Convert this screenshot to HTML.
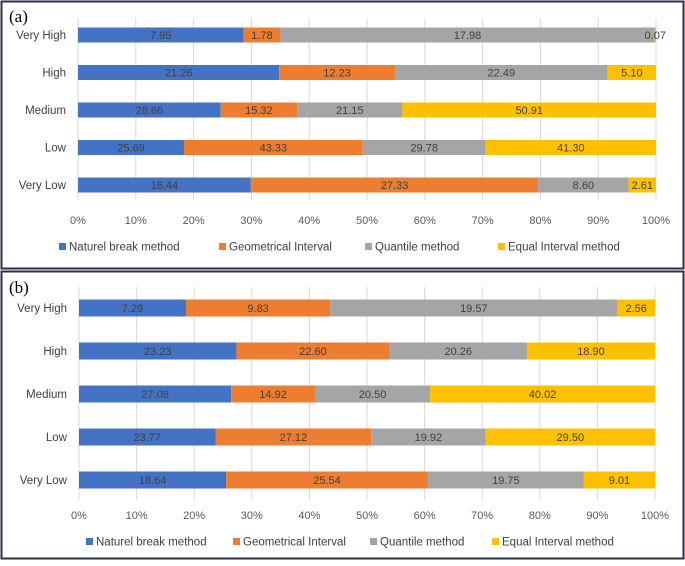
<!DOCTYPE html>
<html><head><meta charset="utf-8"><style>
body{margin:0;background:#fff;width:685px;height:561px;overflow:hidden;font-family:"Liberation Sans",sans-serif}
</style></head><body>
<svg id="svg" width="685" height="561" xmlns="http://www.w3.org/2000/svg">
<rect x="1.5" y="1.5" width="682" height="267" fill="none" stroke="#2b2f4a" stroke-width="2"/>
<rect x="1.5" y="271.5" width="682" height="287" fill="none" stroke="#2b2f4a" stroke-width="2"/>
<text x="9" y="22" font-family="Liberation Serif,serif" font-size="17" fill="#000">(a)</text>
<text x="9" y="293" font-family="Liberation Serif,serif" font-size="17" fill="#000">(b)</text>
</svg>
<script>
const categories=["Very High","High","Medium","Low","Very Low"];
const seriesNames=["Naturel break method","Geometrical Interval","Quantile method","Equal Interval method"];
const colors=["#4472c4","#ed7d31","#a5a5a5","#ffc000"];
const ticks=["0%","10%","20%","30%","40%","50%","60%","70%","80%","90%","100%"];
const aNatural=[7.95,21.26,28.66,25.69,16.44];
const aGeom=[1.78,12.23,15.32,43.33,27.33];
const aQuant=[17.98,22.49,21.15,29.78,8.60];
const aEqual=[0.07,5.10,50.91,41.30,2.61];
const bNatural=[7.29,23.23,27.08,23.77,18.64];
const bGeom=[9.83,22.60,14.92,27.12,25.54];
const bQuant=[19.57,20.26,20.50,19.92,19.75];
const bEqual=[2.56,18.90,40.02,29.50,9.01];
const NS="http://www.w3.org/2000/svg";
const svg=document.getElementById('svg');
function mk(t,a){const e=document.createElementNS(NS,t);for(const k in a)e.setAttribute(k,a[k]);svg.appendChild(e);return e;}
function panel(id,series,cfg){
  const x=p=>cfg.x0+(cfg.x1-cfg.x0)*p;
  const y=i=>cfg.r0+i*cfg.step;
  ticks.forEach((t,i)=>{
    const g=mk('line',{x1:x(i/10),x2:x(i/10),y1:cfg.gTop,y2:cfg.gBot,stroke:'#d9d9d9','stroke-width':1});
    
    
    const tl=mk('text',{x:x(i/10),y:cfg.tickY,'text-anchor':'middle','font-size':11,fill:'#595959'});
    tl.textContent=t;
    
    
  });
  categories.forEach((c,i)=>{
    const cl=mk('text',{x:cfg.x0-12,y:y(i)+4,'text-anchor':'end','font-size':11.5,fill:'#404040'});
    cl.textContent=c;
    
    
    const tot=series.reduce((s,a)=>s+a[i],0);
    let acc=0;
    series.forEach((arr,s)=>{
      const v=arr[i];const p0=acc/tot;acc+=v;const p1=acc/tot;
      const r=mk('rect',{x:x(p0),y:y(i)-cfg.bh/2,width:x(p1)-x(p0),height:cfg.bh,fill:colors[s]});
      
      
      const vt=mk('text',{x:(x(p0)+x(p1))/2,y:y(i)+4,'text-anchor':'middle','font-size':11,fill:'#404040'});
      vt.textContent=v.toFixed(2);
      
      
    });
  });
  cfg.leg.forEach((lx,s)=>{
    const r=mk('rect',{x:lx,y:cfg.legY-4,width:7,height:7,fill:colors[s]});
    
    
    const t=mk('text',{x:lx+10,y:cfg.legY+3.5,'font-size':11.5,fill:'#404040'});
    t.textContent=seriesNames[s];
    
    
  });
}
panel('panel-a',[aNatural,aGeom,aQuant,aEqual],{x0:78,x1:656,r0:35,step:37.5,bh:15,gTop:18,gBot:200,tickY:224,legY:247,leg:[59,219,365,498]});
panel('panel-b',[bNatural,bGeom,bQuant,bEqual],{x0:79,x1:655,r0:308,step:43,bh:17,gTop:287,gBot:500,tickY:519,legY:542,leg:[86,233,370,492]});
</script>
</body></html>
